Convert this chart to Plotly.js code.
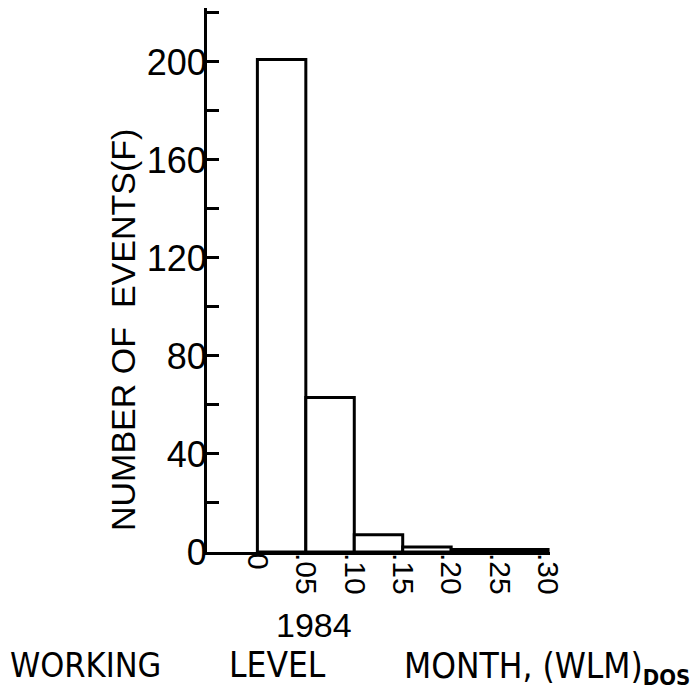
<!DOCTYPE html>
<html>
<head>
<meta charset="utf-8">
<script src="https://cdn.plot.ly/plotly-3.0.1.min.js"></script>
<style>
  html, body { margin: 0; padding: 0; background: #ffffff; }
  #chart { width: 694px; height: 696px; }
</style>
</head>
<body>
<div id="chart"></div>
<script>
// Histogram of working level month doses, 1984
const binStart = [0, 0.05, 0.10, 0.15, 0.20, 0.25];
const binWidth = 0.05;
const eventCounts = [201, 63, 7, 2, 1, 1];

const xTickVals = [0, 0.05, 0.10, 0.15, 0.20, 0.25, 0.30];
const xTickText = ['0', '.05', '.10', '.15', '.20', '.25', '.30'];
const yTickVals = [0, 40, 80, 120, 160, 200];
const yTickText = ['0', '40', '80', '120', '160', '200'];
const yMinorTickVals = [20, 60, 100, 140, 180, 220];

const W = 694, H = 696;
const M = { l: 207, r: 144, t: 8, b: 144 };
const plotW = W - M.l - M.r, plotH = H - M.t - M.b;
// pixel -> paper coordinates for the free text labels
const px = v => (v - M.l) / plotW;
const py = v => (H - M.b - v) / plotH;

const fontMain = 'Liberation Sans, Arial, sans-serif';
const fontNarrow = 'Liberation Sans Narrow, DejaVu Sans Condensed, Liberation Sans, sans-serif';

const trace = {
  type: 'bar',
  x: binStart,
  y: eventCounts,
  width: binWidth,
  offset: 0,
  marker: { color: '#ffffff', line: { color: '#000000', width: 3 } },
  hoverinfo: 'skip'
};

function note(text, x, y, size, family, extra) {
  return Object.assign({
    text: text,
    xref: 'paper', yref: 'paper',
    x: px(x), y: py(y),
    xanchor: 'center', yanchor: 'middle',
    showarrow: false,
    font: { family: family, size: size, color: '#000000' }
  }, extra || {});
}

const layout = {
  width: W, height: H,
  margin: M,
  paper_bgcolor: '#ffffff',
  plot_bgcolor: '#ffffff',
  showlegend: false,
  xaxis: {
    range: [-0.052, 0.302],
    tickmode: 'array',
    tickvals: xTickVals,
    ticktext: xTickText,
    tickangle: 90,
    ticks: '',
    ticklabelstandoff: -8,
    showgrid: false,
    zeroline: false,
    showline: true,
    linecolor: '#000000',
    linewidth: 3,
    tickfont: { family: fontMain, size: 30, color: '#000000' }
  },
  yaxis: {
    range: [0, 222],
    tickmode: 'array',
    tickvals: yTickVals,
    ticktext: yTickText,
    ticks: 'inside',
    ticklen: 12,
    tickwidth: 3,
    tickcolor: '#000000',
    ticklabelstandoff: -10,
    minor: {
      tickmode: 'array',
      tickvals: yMinorTickVals,
      ticks: 'inside',
      ticklen: 12,
      tickwidth: 3,
      tickcolor: '#000000',
      showgrid: false
    },
    showgrid: false,
    zeroline: false,
    showline: true,
    linecolor: '#000000',
    linewidth: 3,
    tickfont: { family: fontMain, size: 36, color: '#000000' }
  },
  annotations: [
    note('NUMBER OF  EVENTS(F)', 123, 330, 34, fontMain, { textangle: -90 }),
    note('1984', 314, 625, 34, fontMain),
    note('WORKING', 86, 665, 34, fontNarrow),
    note('LEVEL', 277, 665, 35, fontNarrow),
    note('MONTH, (WLM)<sub><span style="font-size:22px"><b>DOS</b></span></sub>', 402, 668, 35, fontNarrow,
         { xanchor: 'left' })
  ]
};

Plotly.newPlot('chart', [trace], layout, { staticPlot: true, displayModeBar: false });
</script>
</body>
</html>
